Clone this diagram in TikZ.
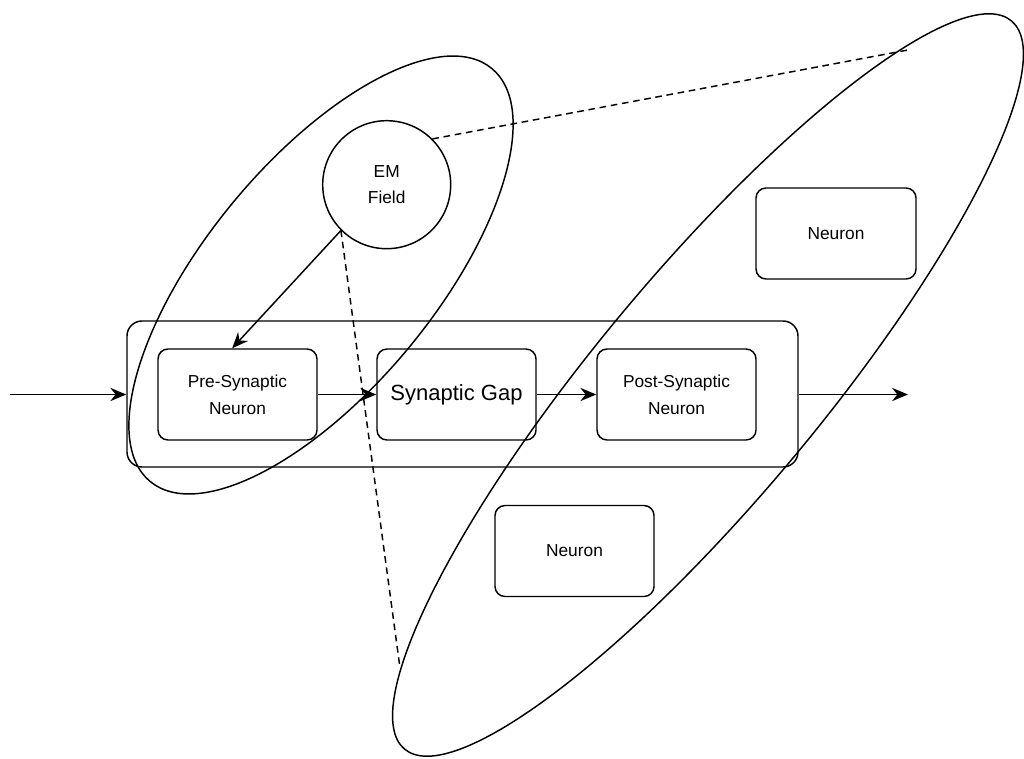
\documentclass[tikz,border=0pt]{standalone}
\usepackage{fontspec}
\setmainfont{Liberation Sans}
\usetikzlibrary{arrows.meta,calc}
\begin{document}
\begin{tikzpicture}[x=0.75pt,y=-0.75pt,line width=1.1pt,
  box/.style={draw, rounded corners=7.5pt, minimum width=119.25pt, minimum height=68.25pt,
    inner sep=0pt, align=center, font=\fontsize{13}{20}\selectfont},
  bigbox/.style={draw, rounded corners=11.25pt, minimum width=503.25pt, minimum height=109.5pt, inner sep=0pt},
  fieldnode/.style={draw, circle, minimum size=96pt, inner sep=0pt, align=center, font=\fontsize{13}{20}\selectfont},
  arr/.style={-{Stealth[length=12pt,width=10pt,inset=4pt]}},
  dashline/.style={dash pattern=on 5pt off 3.5pt},
  group/.style={draw}]
\useasboundingbox (0,0) rectangle (1024,759);

% container and boxes
\node[bigbox] (cont) at (462.5,394) {};
\node[box] (pre) at (237.5,394.5) {Pre-Synaptic\\Neuron};
\node[box, font=\fontsize{16.5}{20}\selectfont] (gap) at (456.5,394.5) {Synaptic Gap};
\node[box] (post) at (676.5,394.5) {Post-Synaptic\\Neuron};
\node[box, minimum width=120pt] (n1) at (836,233.5) {Neuron};
\node[box] (n2) at (574.5,551) {Neuron};
\node[fieldnode] (em) at (386.7,184.7) {EM\\Field};

% groupings
\draw[group, rotate around={50.4:(321,275)}] (321,275) ellipse [x radius=268, y radius=114];
\draw[group, rotate around={50.2:(708,385)}] (708,385) ellipse [x radius=474, y radius=112];

% free ends
\coordinate (in) at (10,394.5);
\coordinate (out) at (908,394.5);
\coordinate (bigA) at (908,50);
\coordinate (bigB) at (400,668);

% connectors
\draw[arr] (in) -- (cont.west |- in);
\draw[arr] (pre.east) -- (gap.west);
\draw[arr] (gap.east) -- (post.west);
\draw[arr] (cont.east |- out) -- (out);
\draw[arr] (em.225) -- ([xshift=-4pt]pre.north);
\draw[dashline] (em.225) -- (bigB);
\draw[dashline] (em.45) -- (bigA);
\end{tikzpicture}
\end{document}
